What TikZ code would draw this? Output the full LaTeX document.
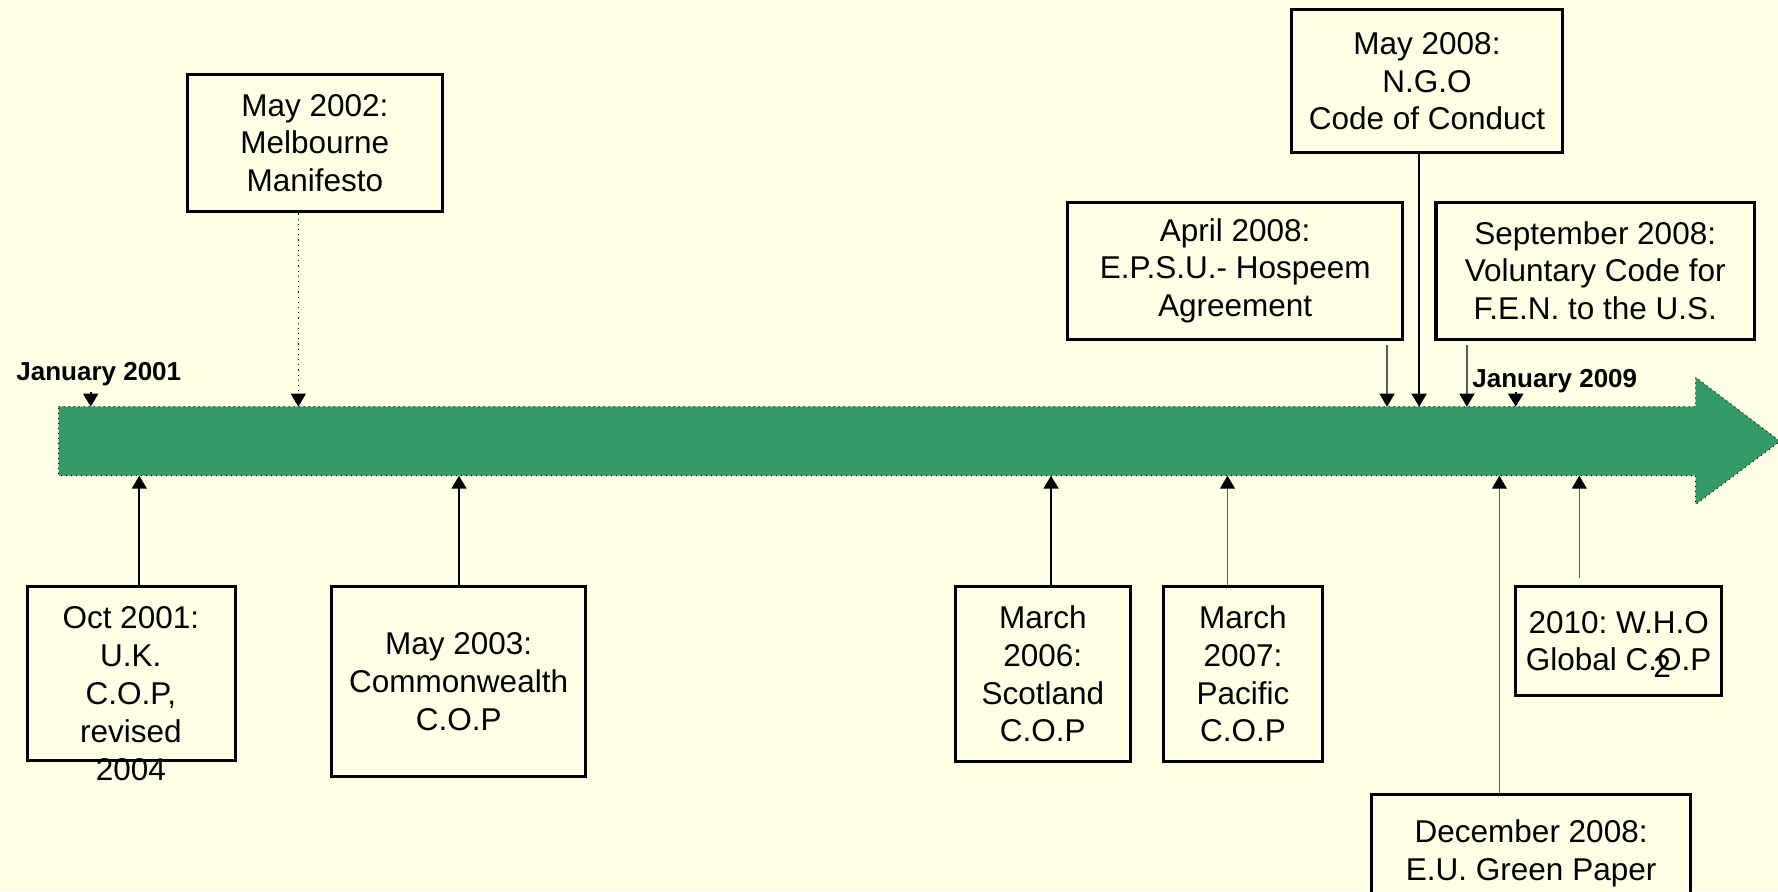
\documentclass[tikz,border=0pt]{standalone}
\usepackage{fontspec}
\setmainfont{Liberation Sans}
\usetikzlibrary{arrows.meta}
\definecolor{bg}{HTML}{FFFFE6}
\definecolor{tlgreen}{HTML}{339966}
\definecolor{thinline}{HTML}{5A5A5A}
\frenchspacing
\begin{document}
\begin{tikzpicture}[x=0.5pt,y=-0.5pt,
  evbox/.style={draw=black, line width=1.6pt, fill=bg, align=center, inner sep=0pt,
    font=\fontsize{15.75}{18.9}\selectfont\frenchspacing},
  evtext/.style={align=center, inner sep=0pt, font=\fontsize{15.75}{18.9}\selectfont\frenchspacing},
  datelbl/.style={font=\fontsize{13}{15}\selectfont\bfseries, inner sep=0pt, anchor=base west},
  tipped/.style={-{Triangle[width=7.5pt,length=6.5pt,color=black]}},
  heavylink/.style={tipped, line width=1pt, black},
  lightlink/.style={tipped, line width=0.6pt, thinline},
  dotlink/.style={tipped, line width=0.6pt, black, dotted}
]
\useasboundingbox (0,0) rectangle (1778,891);
\clip (0,0) rectangle (1778,891);
\fill[bg] (0,0) rectangle (1778,891);

% timeline arrow
\draw[fill=tlgreen, draw=black, line width=0.5pt, dotted]
  (58.7,406.7) -- (1695.7,406.7) -- (1695.7,377.3) -- (1780,441.2)
  -- (1695.7,504.3) -- (1695.7,475.7) -- (58.7,475.7) -- cycle;

% contact points on the arrow
\coordinate (tJan01) at (90.7,406.7);
\coordinate (tMelb)  at (298.3,406.7);
\coordinate (tApr)   at (1387,406.7);
\coordinate (tNgo)   at (1419.1,406.7);
\coordinate (tSep)   at (1466.9,406.7);
\coordinate (tJan09) at (1515.7,406.7);
\coordinate (bOct)   at (139.3,475.7);
\coordinate (bMay03) at (459,475.7);
\coordinate (bMar06) at (1051,475.7);
\coordinate (bMar07) at (1227.5,475.7);
\coordinate (bDec)   at (1499.4,475.7);
\coordinate (bWho)   at (1579.3,475.7);
\coordinate (sJan01) at (90.7,392);
\coordinate (sJan09) at (1515.7,392);

% date labels
\node[datelbl] (jan01) at (16,380.7) {January 2001};
\node[datelbl] (jan09) at (1472,387.7) {January 2009};

% boxes above
\node[evbox, minimum width=127.65pt, minimum height=68.8pt] (melb) at (314.85,143)
  {May 2002:\\Melbourne\\Manifesto};
\node[evbox, minimum width=135.45pt, minimum height=71.5pt] (ngo) at (1427,81.3)
  {May 2008:\\N.G.O\\Code of Conduct};
\node[evbox, minimum width=167.5pt, minimum height=68.5pt] (april) at (1235.2,270.7)
  {April 2008:\\E.P.S.U.- Hospeem\\Agreement};
\node[evbox, minimum width=159.35pt, minimum height=68.5pt] (sept) at (1595.25,270.7)
  {September 2008:\\Voluntary Code for\\F.E.N. to the U.S.};

% boxes below
\node[evbox, minimum width=104.15pt, minimum height=87.15pt] (oct) at (131.65,673.65) {};
\node[evtext] (octtext) at (130.8,693.6) {Oct 2001:\\U.K.\\C.O.P,\\revised\\2004};
\node[evbox, minimum width=127.15pt, minimum height=95.15pt] (may03) at (458.65,681.65)
  {May 2003:\\Commonwealth\\C.O.P};
\node[evbox, minimum width=87.3pt, minimum height=87.35pt] (mar06) at (1042.8,673.85)
  {March\\2006:\\Scotland\\C.O.P};
\node[evbox, minimum width=79.15pt, minimum height=87.35pt] (mar07) at (1242.95,673.85)
  {March\\2007:\\Pacific\\C.O.P};
\node[evbox, minimum width=103.15pt, minimum height=54.65pt] (who) at (1618.65,641.15)
  {2010: W.H.O\\Global C.O.P};
\node[evtext, anchor=base] (pagenum) at (1662,677.3) {2};
\node[evbox, minimum width=159.65pt, minimum height=55.2pt, text depth=0pt] (dec) at (1531.15,850)
  {December 2008:\\E.U. Green Paper};

% connectors
\draw[heavylink] (sJan01) -- (tJan01);
\draw[heavylink] (sJan09) -- (tJan09);
\draw[dotlink] (melb.south -| tMelb) -- (tMelb);
\draw[lightlink, shorten <=2pt] (april.south -| tApr) -- (tApr);
\draw[heavylink] (ngo.south -| tNgo) -- (tNgo);
\draw[lightlink, shorten <=2pt] (sept.south -| tSep) -- (tSep);
\draw[heavylink] (oct.north -| bOct) -- (bOct);
\draw[heavylink] (may03.north -| bMay03) -- (bMay03);
\draw[heavylink] (mar06.north -| bMar06) -- (bMar06);
\draw[lightlink] (mar07.north -| bMar07) -- (bMar07);
\draw[lightlink] (dec.north -| bDec) -- (bDec);
\draw[lightlink, shorten <=3.5pt] (who.north -| bWho) -- (bWho);
\end{tikzpicture}
\end{document}
